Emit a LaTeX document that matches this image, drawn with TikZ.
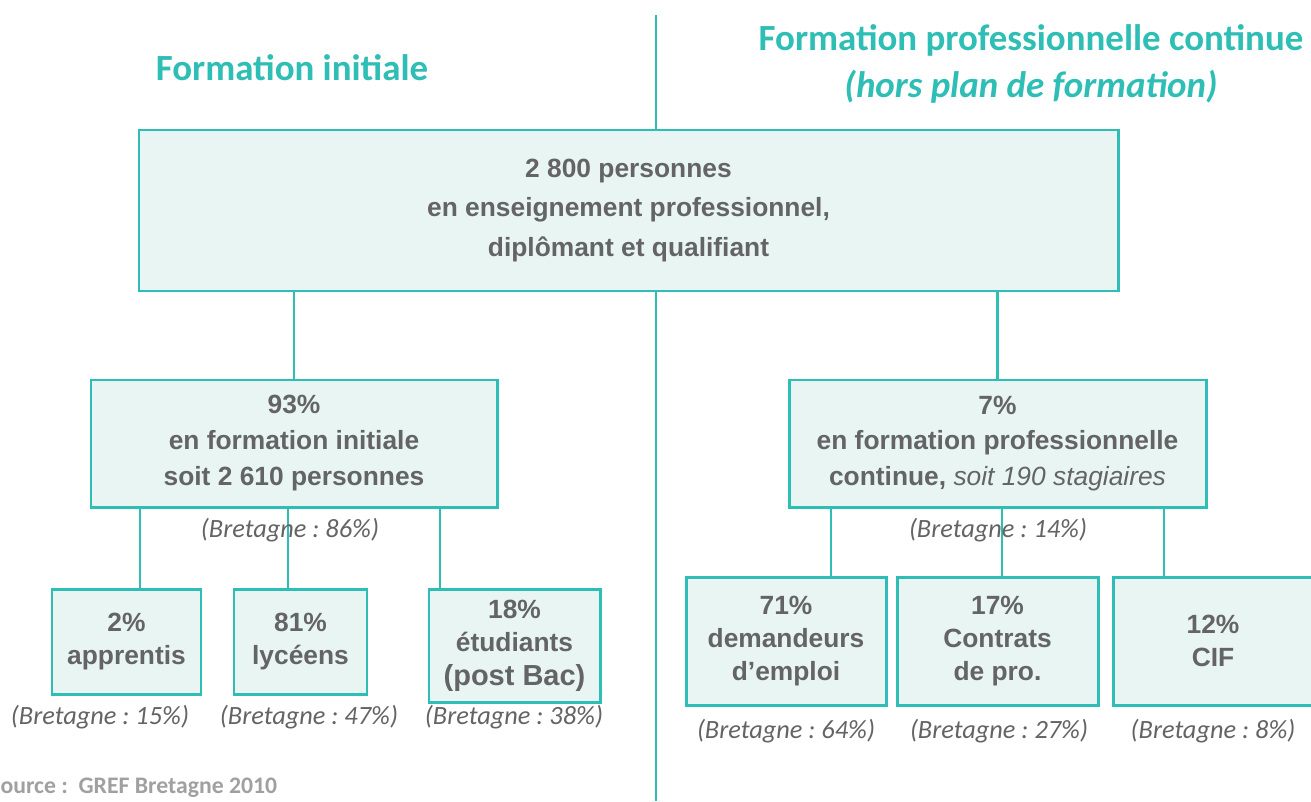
\documentclass[tikz,border=0pt]{standalone}
\usepackage{fontspec}
\setmainfont{Liberation Sans}
\newfontfamily\calibri{Carlito}
\usetikzlibrary{positioning}
\usetikzlibrary{calc}
\frenchspacing
\definecolor{teal1}{RGB}{46,190,181}
\definecolor{tealfill}{RGB}{232,245,243}
\definecolor{txtgray}{RGB}{100,100,100}
\definecolor{srcgray}{RGB}{160,160,160}
\tikzset{
  box/.style 2 args={draw=teal1,fill=tealfill,line width=1.7pt,minimum width=#1*0.02cm,minimum height=#2*0.02cm,inner sep=0pt,align=center,text=txtgray,font=\bfseries\fontsize{15}{19}\selectfont},
  link/.style={draw=teal1,line width=1.2pt},
  breizh/.style={font=\calibri\itshape\fontsize{15}{18}\selectfont,text=txtgray},
  titre/.style={font=\calibri\bfseries\fontsize{21}{27}\selectfont,text=teal1,align=center}
}

\begin{document}
\begin{tikzpicture}[x=0.02cm,y=-0.02cm]
\useasboundingbox (0,0) rectangle (1311,801);
\fill[white] (0,0) rectangle (1311,801);

% ligne de separation
\coordinate (divtop) at (656,15);
\coordinate (divbot) at (656,801);
\draw[link,line width=1.1pt] (divtop) -- (divbot);

\node[titre] (tinit) at (292,68) {Formation initiale};
\node[titre] (tpro) at (1031,64) {Formation professionnelle continue\\{\itshape (hors plan de formation)}};

\node[box={979}{161},font=\bfseries\fontsize{15}{22.7}\selectfont] (top) at (628.5,210.5) {2 800 personnes\\en enseignement professionnel,\\dipl\^omant et qualifiant};

\node[box={406}{127},font=\bfseries\fontsize{15}{20.5}\selectfont] (midL) at (294,443.5) {93\%\\en formation initiale\\soit 2 610 personnes};
\node[box={417}{127},font=\bfseries\fontsize{15}{20}\selectfont] (midR) at (997.5,443.5) {7\%\\en formation professionnelle\\continue, {\mdseries\itshape soit 190 stagiaires}};

\node[box={149}{105}] (appr) at (126.5,641.5) {2\%\\apprentis};
\node[box={133}{105}] (lyc) at (300.5,641.5) {81\%\\lyc\'eens};
\node[box={171}{113}] (etu) at (514.5,645.5) {18\%\\\'etudiants\\{\fontsize{16.5}{20}\selectfont (post Bac)}};

\node[box={200}{128}] (dem) at (786,641) {71\%\\demandeurs\\d’emploi};
\node[box={201}{128}] (con) at (997.5,641) {17\%\\Contrats\\de pro.};
\node[box={200}{128}] (cif) at (1213,641) {12\%\\CIF};

\draw[link] (midL.north) -- (midL.north |- top.south);
\draw[link] (midR.north) -- (midR.north |- top.south);

\coordinate (l1) at ($(appr.north west)!0.59!(appr.north east)$);
\coordinate (l2) at ($(lyc.north west)!0.41!(lyc.north east)$);
\coordinate (l3) at ($(etu.north west)!0.07!(etu.north east)$);
\draw[link] (l1) -- (l1 |- midL.south);
\draw[link] (l2) -- (l2 |- midL.south);
\draw[link] (l3) -- (l3 |- midL.south);

\coordinate (r1) at ($(dem.north west)!0.72!(dem.north east)$);
\coordinate (r2) at ($(con.north west)!0.52!(con.north east)$);
\coordinate (r3) at ($(cif.north west)!0.26!(cif.north east)$);
\draw[link] (r1) -- (r1 |- midR.south);
\draw[link] (r2) -- (r2 |- midR.south);
\draw[link] (r3) -- (r3 |- midR.south);

\node[breizh] (bL) at (290,530) {(Bretagne : 86\%)};
\node[breizh] (bR) at (998,530) {(Bretagne : 14\%)};
\node[breizh] (bappr) at (100,717) {(Bretagne : 15\%)};
\node[breizh] (blyc) at (309,717) {(Bretagne : 47\%)};
\node[breizh] (betu) at (514,717) {(Bretagne : 38\%)};
\node[breizh] (bdem) at (786,731) {(Bretagne : 64\%)};
\node[breizh] (bcon) at (999,731) {(Bretagne : 27\%)};
\node[breizh] (bcif) at (1213,731) {(Bretagne : 8\%)};

\node[font=\calibri\bfseries\fontsize{13.5}{16}\selectfont,text=srcgray,anchor=west,inner sep=0pt] (src) at (-11,788) {Source :\ \ GREF Bretagne 2010};

\end{tikzpicture}
\end{document}
